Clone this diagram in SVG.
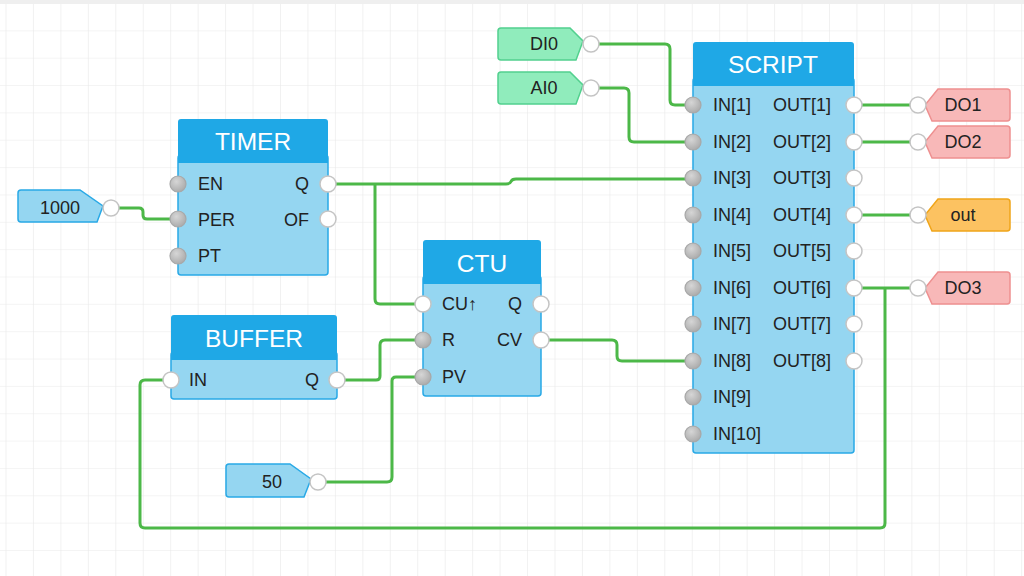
<svg xmlns="http://www.w3.org/2000/svg" width="1024" height="576" viewBox="0 0 1024 576">
<defs>
<pattern id="grid" x="5.5" y="3" width="27.45" height="27.35" patternUnits="userSpaceOnUse">
<path d="M0,0 V27.35 M0,0 H27.45" fill="none" stroke="#e9e9e9" stroke-width="1.2"/>
</pattern>
<radialGradient id="gin" cx="40%" cy="35%" r="70%">
<stop offset="0" stop-color="#d6d6d6"/>
<stop offset="1" stop-color="#a9a9a9"/>
</radialGradient>
<style>
.hdr{fill:#1fa8e6}
.body{fill:#95d6f1;stroke:#29a9e6;stroke-width:1.5}
.title{font-family:"Liberation Sans",Arial,sans-serif;font-size:24.5px;fill:#fff;text-anchor:middle}
.lbl{font-family:"Liberation Sans",Arial,sans-serif;font-size:18px;fill:#222}
.r{text-anchor:end}
.pin{fill:url(#gin);stroke:#a8a8a8;stroke-width:1.2}
.pout{fill:#fff;stroke:#c4c4c4;stroke-width:1.5}
.wire{fill:none;stroke:#4cb848;stroke-width:3;stroke-linejoin:round}
.tagb{fill:#95d6f1;stroke:#29a9e6;stroke-width:1.5}
.tagg{fill:#90ecbc;stroke:#52d08e;stroke-width:1.5}
.tagr{fill:#f8b8b8;stroke:#ee9090;stroke-width:1.5}
.tago{fill:#fcc261;stroke:#f0a51a;stroke-width:1.5}
.tt{font-family:"Liberation Sans",Arial,sans-serif;font-size:18px;fill:#222;text-anchor:middle}
</style>
</defs>
<rect width="1024" height="576" fill="#fff"/>
<rect width="1024" height="576" fill="url(#grid)"/>
<rect width="1024" height="4" fill="#efefef"/>

<g id="connectors">
<path class="wire" d="M111,208 H139 Q143,208 143,212 V215 Q143,219 147,219 H178"/>
<path class="wire" d="M328,184 H506 Q510,184 511,181.5 Q512,179 516,179 H693"/>
<path class="wire" d="M375,184 V299 Q375,304 380,304 H423"/>
<path class="wire" d="M337,380 H376 Q380,380 380,376 V345 Q380,340 385,340 H423"/>
<path class="wire" d="M318,482 H387 Q392,482 392,477 V381 Q392,377 396,377 H423"/>
<path class="wire" d="M541,340 H612 Q617,340 617,345 V356 Q617,361 622,361 H693"/>
<path class="wire" d="M591,44 H665 Q670,44 670,49 V100 Q670,105 675,105 H693"/>
<path class="wire" d="M591,88 H624 Q629,88 629,93 V137 Q629,142 634,142 H693"/>
<path class="wire" d="M854,105 H918"/>
<path class="wire" d="M854,142 H918"/>
<path class="wire" d="M854,215 H918"/>
<path class="wire" d="M854,288 H918"/>
<path class="wire" d="M885,288 V523 Q885,528 880,528 H145 Q140,528 140,523 V385 Q140,380 145,380 H171"/>
</g>

<g id="tag-1000">
<path class="tagb" d="M21,190 H80 L103,206 L97,222 H21 Q18,222 18,219 V193 Q18,190 21,190 Z"/>
<text class="tt" x="60" y="214">1000</text>
<circle class="pout" cx="111" cy="208" r="8"/>
</g>

<g id="tag-50">
<path class="tagb" d="M229,464 H290 L311,479 L304,497 H229 Q226,497 226,494 V467 Q226,464 229,464 Z"/>
<text class="tt" x="272" y="488">50</text>
<circle class="pout" cx="318" cy="482" r="8"/>
</g>

<g id="tag-DI0">
<path class="tagg" d="M501,28 H570 L583,41 L576,60 H501 Q498,60 498,57 V31 Q498,28 501,28 Z"/>
<text class="tt" x="544" y="50">DI0</text>
<circle class="pout" cx="591" cy="44" r="8"/>
</g>

<g id="tag-AI0">
<path class="tagg" d="M501,72 H570 L583,85 L576,104 H501 Q498,104 498,101 V75 Q498,72 501,72 Z"/>
<text class="tt" x="544" y="94">AI0</text>
<circle class="pout" cx="591" cy="88" r="8"/>
</g>

<g id="TIMER">
<rect class="body" x="178" y="155" width="150" height="120" rx="3"/>
<path class="hdr" d="M181,119 H325 Q328,119 328,122 V163 H178 V122 Q178,119 181,119 Z"/>
<text class="title" x="253" y="150">TIMER</text>
<text class="lbl" x="198" y="190">EN</text>
<text class="lbl" x="198" y="226">PER</text>
<text class="lbl" x="198" y="262">PT</text>
<text class="lbl r" x="309" y="190">Q</text>
<text class="lbl r" x="309" y="226">OF</text>
<circle class="pin" cx="178" cy="184" r="8"/>
<circle class="pin" cx="178" cy="219" r="8"/>
<circle class="pin" cx="178" cy="256" r="8"/>
<circle class="pout" cx="328" cy="184" r="8"/>
<circle class="pout" cx="328" cy="219" r="8"/>
</g>

<g id="CTU">
<rect class="body" x="423" y="276" width="118" height="120" rx="3"/>
<path class="hdr" d="M426,240 H538 Q541,240 541,243 V284 H423 V243 Q423,240 426,240 Z"/>
<text class="title" x="482" y="272">CTU</text>
<text class="lbl" x="442" y="310">CU↑</text>
<text class="lbl" x="442" y="346">R</text>
<text class="lbl" x="442" y="383">PV</text>
<text class="lbl r" x="522" y="310">Q</text>
<text class="lbl r" x="522" y="346">CV</text>
<circle class="pout" cx="423" cy="304" r="8"/>
<circle class="pin" cx="423" cy="340" r="8"/>
<circle class="pin" cx="423" cy="377" r="8"/>
<circle class="pout" cx="541" cy="304" r="8"/>
<circle class="pout" cx="541" cy="340" r="8"/>
</g>

<g id="BUFFER">
<rect class="body" x="171" y="352" width="166" height="47" rx="3"/>
<path class="hdr" d="M174,315 H334 Q337,315 337,318 V360 H171 V318 Q171,315 174,315 Z"/>
<text class="title" x="254" y="347">BUFFER</text>
<text class="lbl" x="189" y="386">IN</text>
<text class="lbl r" x="319" y="386">Q</text>
<circle class="pout" cx="171" cy="380" r="8"/>
<circle class="pout" cx="337" cy="380" r="8"/>
</g>

<g id="SCRIPT">
<rect class="body" x="693" y="78" width="161" height="375" rx="3"/>
<path class="hdr" d="M696,42 H851 Q854,42 854,45 V86 H693 V45 Q693,42 696,42 Z"/>
<text class="title" x="773" y="73">SCRIPT</text>
<g class="lbl">
<text x="713" y="111">IN[1]</text>
<text x="713" y="148">IN[2]</text>
<text x="713" y="184">IN[3]</text>
<text x="713" y="221">IN[4]</text>
<text x="713" y="257">IN[5]</text>
<text x="713" y="294">IN[6]</text>
<text x="713" y="330">IN[7]</text>
<text x="713" y="367">IN[8]</text>
<text x="713" y="403">IN[9]</text>
<text x="713" y="440">IN[10]</text>
<text x="773" y="111">OUT[1]</text>
<text x="773" y="148">OUT[2]</text>
<text x="773" y="184">OUT[3]</text>
<text x="773" y="221">OUT[4]</text>
<text x="773" y="257">OUT[5]</text>
<text x="773" y="294">OUT[6]</text>
<text x="773" y="330">OUT[7]</text>
<text x="773" y="367">OUT[8]</text>
</g>
<circle class="pin" cx="693" cy="105" r="8"/>
<circle class="pin" cx="693" cy="142" r="8"/>
<circle class="pin" cx="693" cy="178" r="8"/>
<circle class="pin" cx="693" cy="215" r="8"/>
<circle class="pin" cx="693" cy="251" r="8"/>
<circle class="pin" cx="693" cy="288" r="8"/>
<circle class="pin" cx="693" cy="324" r="8"/>
<circle class="pin" cx="693" cy="361" r="8"/>
<circle class="pin" cx="693" cy="397" r="8"/>
<circle class="pin" cx="693" cy="434" r="8"/>
<circle class="pout" cx="854" cy="105" r="8"/>
<circle class="pout" cx="854" cy="142" r="8"/>
<circle class="pout" cx="854" cy="178" r="8"/>
<circle class="pout" cx="854" cy="215" r="8"/>
<circle class="pout" cx="854" cy="251" r="8"/>
<circle class="pout" cx="854" cy="288" r="8"/>
<circle class="pout" cx="854" cy="324" r="8"/>
<circle class="pout" cx="854" cy="361" r="8"/>
</g>

<g id="tag-DO1">
<path class="tagr" d="M938,89 H1007 Q1010,89 1010,92 V118 Q1010,121 1007,121 H932 L925,105 Z"/>
<text class="tt" x="963" y="111">DO1</text>
<circle class="pout" cx="918" cy="105" r="8"/>
</g>
<g id="tag-DO2">
<path class="tagr" d="M938,126 H1007 Q1010,126 1010,129 V155 Q1010,158 1007,158 H932 L925,142 Z"/>
<text class="tt" x="963" y="148">DO2</text>
<circle class="pout" cx="918" cy="142" r="8"/>
</g>
<g id="tag-out">
<path class="tago" d="M938,199 H1007 Q1010,199 1010,202 V228 Q1010,231 1007,231 H932 L925,215 Z"/>
<text class="tt" x="963" y="221">out</text>
<circle class="pout" cx="918" cy="215" r="8"/>
</g>
<g id="tag-DO3">
<path class="tagr" d="M938,272 H1007 Q1010,272 1010,275 V301 Q1010,304 1007,304 H932 L925,288 Z"/>
<text class="tt" x="963" y="294">DO3</text>
<circle class="pout" cx="918" cy="288" r="8"/>
</g>
</svg>
